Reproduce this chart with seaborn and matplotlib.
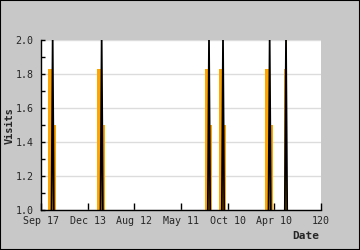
import matplotlib
matplotlib.use("Agg")
import matplotlib.pyplot as plt
from matplotlib.patches import Rectangle
from matplotlib.ticker import MultipleLocator, FormatStrFormatter
import seaborn as sns

# ---- data ----
tick_pos = [0, 20, 40, 60, 80, 100, 120]
tick_labels = ["Sep 17", "Dec 13", "Aug 12", "May 11", "Oct 10", "Apr 10", "120"]

# black visits line (days / visits)
line_days = [0, 4, 5, 6, 25, 26, 27, 71, 72, 73, 77, 78, 79, 97, 98, 99, 104, 105, 106, 120]
line_visits = [0, 0, 2, 0, 0, 2, 0, 0, 2, 0, 0, 2, 0, 0, 2, 0, 0, 2, 0, 0]

# orange bars (left part / right part of each spike)
bar_days = [4.1, 5.6, 25.1, 26.6, 71.1, 72.6, 77.1, 78.6, 97.1, 98.6, 104.6, 105.3]
bar_visits = [1.83, 1.5, 1.83, 1.5, 1.83, 1.5, 1.83, 1.5, 1.83, 1.5, 1.83, 2.0]
bar_widths = [1.8, 1.3, 1.8, 1.3, 1.8, 1.3, 1.8, 1.3, 1.8, 1.3, 0.9, 0.5]

sns.set_style("white")
plt.rcParams["font.family"] = ["DejaVu Sans Mono"]

fig = plt.figure(figsize=(3.6, 2.5), dpi=100, facecolor="#c8c8c8")
ax = fig.add_axes([41/360, 1-210/250, 280/360, 170/250])
ax.set_facecolor("white")

ax.bar(bar_days, bar_visits, width=bar_widths, color="#ffa500",
       linewidth=0, zorder=2)
sns.lineplot(x=line_days, y=line_visits, color="black", lw=1.3, ax=ax,
             estimator=None, zorder=3)

ax.set_xlim(0, 120)
ax.set_ylim(1.0, 2.0)
ax.set_xticks(tick_pos)
ax.set_xticklabels(tick_labels)
ax.yaxis.set_major_locator(MultipleLocator(0.2))
ax.yaxis.set_minor_locator(MultipleLocator(0.1))
ax.yaxis.set_major_formatter(FormatStrFormatter("%.1f"))
ax.grid(axis="y", which="major", color="#dcdcdc", lw=1, zorder=0)
ax.set_axisbelow(True)
ax.tick_params(axis="y", which="major", direction="in", length=3, width=1,
               color="black", labelsize=7.2, pad=5.5, left=True)
ax.tick_params(axis="y", which="minor", direction="in", length=3, width=1,
               color="black", left=True)
ax.tick_params(axis="x", which="major", direction="in", length=5, width=1,
               color="black", labelsize=7.2, pad=4, bottom=True)
for s in ["top", "right"]:
    ax.spines[s].set_visible(False)
for s in ["left", "bottom"]:
    ax.spines[s].set_color("black")
    ax.spines[s].set_linewidth(1)
ax.set_xlabel("")
ax.set_ylabel("")

fig.text(10/360, 1-125.5/250, "Visits", rotation=90, ha="center", va="center",
         fontsize=7.4, fontweight="bold")
fig.text(319/360, 1-236/250, "Date", ha="right", va="center",
         fontsize=8, fontweight="bold")
fig.patches.append(Rectangle((0, 0), 1, 1, transform=fig.transFigure,
                             fill=False, edgecolor="black", lw=1.5))

fig.savefig("out.png", dpi=100, facecolor=fig.get_facecolor())
